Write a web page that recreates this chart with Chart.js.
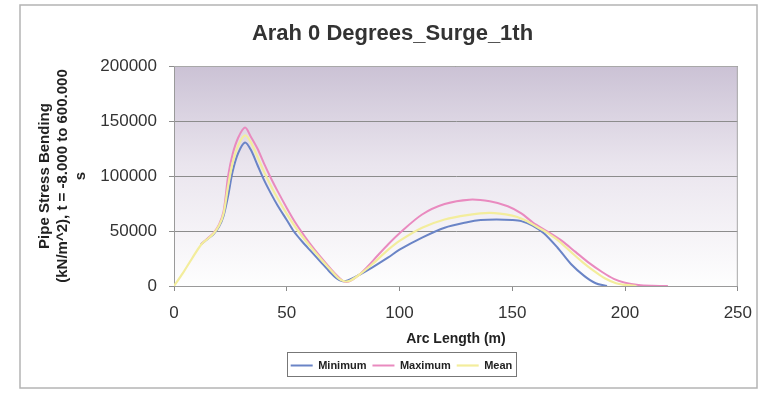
<!DOCTYPE html>
<html>
<head>
<meta charset="utf-8">
<script src="https://cdn.jsdelivr.net/npm/chart.js@4.4.1/dist/chart.umd.min.js"></script>
<style>
  html, body { margin: 0; padding: 0; background: #ffffff; }
  #wrap { width: 764px; height: 395px; }
</style>
</head>
<body>
<div id="wrap"><canvas id="chart" width="764" height="395"></canvas></div>
<script>
// Bending stress envelope along the pipe arc length (surge, 0 degrees heading)
const chartTitle = 'Arah 0 Degrees_Surge_1th';
const xAxisTitle = 'Arc Length (m)';
const yAxisTitle = ['Pipe Stress Bending', '(kN/m^2), t = -8.000 to 600.000', 's'];
const seriesNames = ['Minimum', 'Maximum', 'Mean'];
const xTicks = [0, 50, 100, 150, 200, 250];
const yTicks = [0, 50000, 100000, 150000, 200000];

const minArc = [12, 15, 17.5, 20, 22, 24, 26, 28.5, 31.5, 34, 37, 40, 43, 46, 50, 53, 57, 61, 65, 69, 72, 74.5, 77, 82, 88, 95, 100, 110, 120, 130, 136, 143, 150, 154, 159, 164, 170, 176, 182, 187, 192];
const minStress = [38000, 43000, 47000, 54000, 64000, 82000, 104000, 121000, 130500, 124000, 110000, 96000, 84000, 73000, 60000, 50000, 40000, 31000, 22000, 13000, 7000, 4500, 5000, 10000, 17000, 26000, 33000, 44000, 53000, 58000, 60000, 60500, 60000, 59000, 55000, 48000, 35000, 20000, 9000, 2500, 0];

const maxArc = [12, 15, 17.5, 20, 22, 24, 26, 28.5, 31.5, 34, 37, 40, 43, 46, 50, 54, 58, 62, 66, 70, 73, 75.5, 78, 82, 86, 90, 95, 100, 110, 120, 131, 140, 148, 154, 159, 166, 172, 178, 184, 190, 195, 200, 206, 212, 219];
const maxStress = [38000, 43500, 48000, 56000, 68000, 100000, 120000, 135000, 144000, 136000, 125000, 111000, 98000, 86000, 71000, 57000, 45000, 34000, 24000, 14500, 8000, 4000, 4500, 10000, 18000, 27000, 38000, 48000, 65000, 74500, 78500, 77000, 72500, 66000, 58000, 49000, 41000, 31000, 21000, 12500, 6500, 3000, 1000, 300, 0];

const meanArc = [0, 4, 8, 12, 15, 17.5, 20, 22, 24, 26, 28.5, 31.5, 34, 37, 40, 43, 46, 50, 54, 58, 62, 66, 70, 73, 75.5, 78, 82, 88, 95, 100, 110, 120, 130, 140, 150, 155, 159, 165, 170, 176, 181, 186, 191, 196, 200, 205];
const meanStress = [0, 12000, 25000, 37500, 43000, 47500, 55000, 66000, 91000, 112000, 128000, 137000, 131000, 117500, 103500, 91000, 79500, 65500, 53000, 42000, 32000, 22500, 13500, 7000, 4300, 4800, 10000, 20000, 33000, 41000, 53000, 60500, 64500, 66500, 64000, 60500, 56000, 49000, 42000, 31000, 22000, 14000, 7000, 2500, 1000, 0];

const toPoints = (xs, ys) => xs.map((x, i) => ({ x: x, y: ys[i] }));

const FONT = '"Liberation Sans", Arial, Helvetica, sans-serif';

// Page frame, shaded plot background, plot border and legend box
const chartDecor = {
  id: 'chartDecor',
  afterLayout(chart) {
    // title and legend sit a little right of the canvas centre
    if (chart.titleBlock) { chart.titleBlock.left += 13; chart.titleBlock.right += 13; }
    if (chart.legend) { chart.legend.left += 22; chart.legend.right += 22; }
  },
  beforeDraw(chart) {
    const { ctx, chartArea: a } = chart;
    ctx.save();
    ctx.fillStyle = '#ffffff';
    ctx.fillRect(0, 0, chart.width, chart.height);
    const g = ctx.createLinearGradient(0, a.top, 0, a.bottom);
    g.addColorStop(0, '#cbc2d5');
    g.addColorStop(0.45, '#eae5ee');
    g.addColorStop(1, '#fefefe');
    ctx.fillStyle = g;
    ctx.fillRect(a.left, a.top, a.right - a.left, a.bottom - a.top);
    ctx.restore();
  },
  afterDraw(chart) {
    const { ctx, chartArea: a, legend } = chart;
    ctx.save();
    // plot area outline on the top and right
    ctx.strokeStyle = '#a8a8a8';
    ctx.lineWidth = 1;
    ctx.beginPath();
    ctx.moveTo(a.left, a.top + 0.5);
    ctx.lineTo(a.right - 0.5, a.top + 0.5);
    ctx.lineTo(a.right - 0.5, a.bottom);
    ctx.stroke();
    // outer frame
    ctx.strokeStyle = '#b4b4b4';
    ctx.lineWidth = 1.5;
    ctx.strokeRect(20, 5, 737, 383);
    // legend box around the items
    if (legend && legend.lineWidths) {
      const pad = legend.options.labels.padding;
      const lw = legend.lineWidths[0];
      const start = (legend.left + pad + legend.right - lw) / 2;
      const end = start + lw - pad;
      const x0 = Math.round(start - 4) + 0.5;
      const x1 = Math.round(end + 4) + 0.5;
      ctx.strokeStyle = '#777777';
      ctx.lineWidth = 1;
      ctx.strokeRect(x0, 352.5, x1 - x0, 24);
    }
    ctx.restore();
  }
};

new Chart(document.getElementById('chart'), {
  type: 'line',
  data: {
    datasets: [
      {
        label: seriesNames[0],
        data: toPoints(minArc, minStress),
        borderColor: '#6a84c6',
        backgroundColor: '#6a84c6',
        borderWidth: 2,
        order: 2
      },
      {
        label: seriesNames[1],
        data: toPoints(maxArc, maxStress),
        borderColor: '#e98abf',
        backgroundColor: '#e98abf',
        borderWidth: 2,
        order: 1
      },
      {
        label: seriesNames[2],
        data: toPoints(meanArc, meanStress),
        borderColor: '#f3ed9c',
        backgroundColor: '#f3ed9c',
        borderWidth: 2.2,
        order: 0
      }
    ]
  },
  options: {
    responsive: false,
    animation: false,
    elements: {
      point: { radius: 0, hoverRadius: 0 },
      line: { tension: 0.3, fill: false }
    },
    layout: { padding: { left: 20, right: 25, top: 0, bottom: 14 } },
    scales: {
      x: {
        type: 'linear',
        min: 0,
        max: 250,
        afterBuildTicks: (s) => { s.ticks = xTicks.map(v => ({ value: v })); },
        afterFit: (s) => { s.height = 68; },
        ticks: {
          color: '#333333',
          font: { family: FONT, size: 17 },
          padding: 12,
          maxRotation: 0,
          autoSkip: false
        },
        grid: { drawOnChartArea: false, color: '#8a8a8a', tickLength: 5 },
        border: { display: true, color: '#9a9a9a', width: 1 },
        title: {
          display: true,
          text: xAxisTitle,
          color: '#222222',
          font: { family: FONT, size: 14, weight: 'bold' },
          padding: { top: 0, bottom: 6 }
        }
      },
      y: {
        type: 'linear',
        min: 0,
        max: 200000,
        afterBuildTicks: (s) => { s.ticks = yTicks.map(v => ({ value: v })); },
        afterFit: (s) => { s.width = 154; },
        ticks: {
          color: '#333333',
          font: { family: FONT, size: 17 },
          padding: 12,
          callback: (v) => String(v)
        },
        grid: { color: '#8c8c8c', tickLength: 5, lineWidth: 1 },
        border: { display: true, color: '#9a9a9a', width: 1 },
        title: {
          display: true,
          text: yAxisTitle,
          color: '#222222',
          font: { family: FONT, size: 15, weight: 'bold', lineHeight: 1.2 },
          padding: { top: 16, bottom: 0 }
        }
      }
    },
    plugins: {
      title: {
        display: true,
        text: chartTitle,
        color: '#333333',
        font: { family: FONT, size: 22, weight: 'bold' },
        padding: { top: 21, bottom: 18.6 }
      },
      legend: {
        position: 'bottom',
        labels: {
          usePointStyle: true,
          pointStyle: 'line',
          pointStyleWidth: 22,
          color: '#222222',
          font: { family: FONT, size: 11, weight: 'bold' },
          padding: 6,
          sort: (a, b) => a.datasetIndex - b.datasetIndex
        }
      },
      tooltip: { enabled: false }
    }
  },
  plugins: [chartDecor]
});
</script>
</body>
</html>
